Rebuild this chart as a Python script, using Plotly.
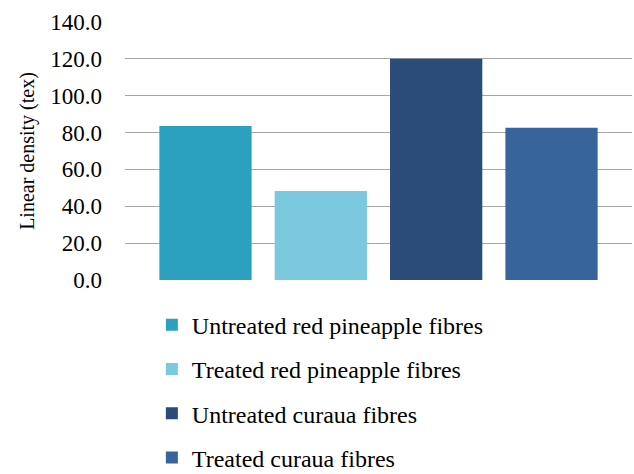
import plotly.graph_objects as go

series_names = [
    "Untreated red pineapple fibres",
    "Treated red pineapple fibres",
    "Untreated curaua fibres",
    "Treated curaua fibres",
]
linear_density = [83.6, 48.3, 120.0, 82.6]
colors = ["#2CA1BF", "#7BC9DF", "#2B4B78", "#38649C"]
y_ticks = [0, 20, 40, 60, 80, 100, 120, 140]

FONT = "Liberation Serif"

fig = go.Figure()
for i, (name, val, col) in enumerate(zip(series_names, linear_density, colors)):
    fig.add_trace(go.Bar(
        x=[""], y=[val], name=name, marker_color=col,
        marker_line_width=0, legendgroup=f"g{i}",
    ))

fig.update_layout(
    width=634, height=474,
    margin=dict(l=125, r=2, t=22, b=194, autoexpand=False),
    paper_bgcolor="white", plot_bgcolor="white",
    barmode="group", bargap=0.09, bargroupgap=0.2,
    font=dict(family=FONT, size=22, color="#000000"),
    showlegend=True,
    legend=dict(
        orientation="v", x=0.053, xanchor="left", y=-0.088, yanchor="top",
        font=dict(family=FONT, size=24, color="#000000"),
        tracegroupgap=10, itemclick=False, itemdoubleclick=False,
        bgcolor="rgba(0,0,0,0)",
    ),
)
fig.update_xaxes(showticklabels=False, showgrid=False, zeroline=False,
                 showline=False, ticks="")
fig.update_yaxes(
    range=[0, 140], tickvals=y_ticks, tickformat=".1f",
    showgrid=True, gridcolor="#A6A6A6", gridwidth=1,
    zeroline=False, showline=False, ticks="", ticklabelstandoff=22,
    tickfont=dict(family=FONT, size=23, color="#000000"),
    title=dict(text="Linear density (tex)", standoff=10,
               font=dict(family=FONT, size=20, color="#000000")),
)

fig.write_html("out.html")
